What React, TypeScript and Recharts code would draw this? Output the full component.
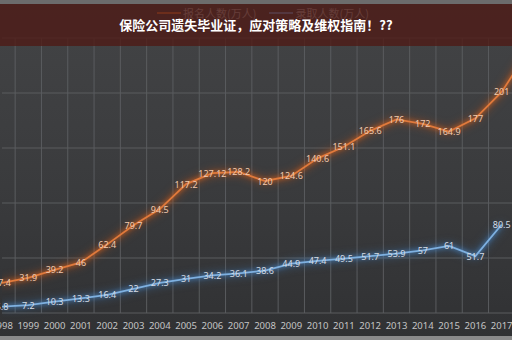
import { LineChart, Line, XAxis, YAxis, CartesianGrid, LabelList } from 'recharts'

// 年份 (2018 只露出一小段, 在右边缘之外)
const years = [1998, 1999, 2000, 2001, 2002, 2003, 2004, 2005, 2006, 2007, 2008, 2009, 2010, 2011, 2012, 2013, 2014, 2015, 2016, 2017, 2018]
const applicants = [27.4, 31.9, 39.2, 46, 62.4, 79.7, 94.5, 117.2, 127.12, 128.2, 120, 124.6, 140.6, 151.1, 165.6, 176, 172, 164.9, 177, 201, 238]
const admitted = [5.8, 7.2, 10.3, 13.3, 16.4, 22, 27.3, 31, 34.2, 36.1, 38.6, 44.9, 47.4, 49.5, 51.7, 53.9, 57, 61, 51.7, 80.5, null]
const yTicks = [0, 50, 100, 150, 200, 250]
const xDomain: [number, number] = [1998, 2018]
// 竖网格线在两个年份之间
const gridTicks = years.map(y => y - 0.5).concat([2018.5])

const TITLE = '保险公司遗失毕业证，应对策略及维权指南！??'
const LEGEND = [
  { label: '报名人数(万人)', color: '#d9773a' },
  { label: '录取人数(万人)', color: '#6a9fd6' },
]

const data = years.map((y, i) => ({ year: y, apply: applicants[i], admit: admitted[i] }))

const font = '"Noto Sans", "DejaVu Sans", sans-serif'

function valueLabel(color: string) {
  return (props: any) => {
    const { x, y, value } = props
    if (value == null) return null
    return (
      <text x={x} y={y} textAnchor="middle" dominantBaseline="central"
        fill={color} fontSize={9} fontFamily={font}>
        {value}
      </text>
    )
  }
}

// 按 x 轴的域把网格刻度换成像素
function gridX({ offset }: any) {
  const span = xDomain[1] - xDomain[0]
  return gridTicks.map(t => offset.left + ((t - xDomain[0]) / span) * offset.width)
}

export default function App() {
  return (
    <div style={{ position: 'relative', width: 512, height: 340, overflow: 'hidden',
      background: 'linear-gradient(#434446, #3a3b3d 55%, #303133)' }}>
      <style>{`
        body { margin: 0; }
        .apply-line .recharts-line-curve { filter: drop-shadow(0 0 2px #e0661e) drop-shadow(0 0 4px #b4501a); }
        .admit-line .recharts-line-curve { filter: drop-shadow(0 0 2px #4f8fd0) drop-shadow(0 0 4px #3a6fa8); }
      `}</style>
      <div style={{ position: 'absolute', left: 0, top: 0, width: 512, height: 4, background: '#6c6c6c' }} />
      <div style={{ position: 'absolute', left: 0, top: 336, width: 512, height: 4, background: '#8a8a8a' }} />

      <div style={{ position: 'absolute', top: 0, left: 0 }}>
        <LineChart width={540} height={340} data={data}
          margin={{ top: 38, right: 12, left: 2, bottom: 0 }}>
          <CartesianGrid stroke="#5a5c5f" strokeWidth={1} verticalCoordinatesGenerator={gridX} />
          <XAxis dataKey="year" type="number" domain={xDomain} ticks={years}
            allowDataOverflow axisLine={false} tickLine={false} tickSize={0} tickMargin={9} height={27}
            tick={{ fill: '#c4c4c4', fontSize: 9.5, fontFamily: font }} interval={0} />
          <YAxis domain={[0, 250]} ticks={yTicks} hide />
          <Line className="apply-line" dataKey="apply" stroke="#e07a3c" strokeWidth={1.8}
            dot={false} isAnimationActive={false}>
            <LabelList dataKey="apply" content={valueLabel('#f1c9ae')} />
          </Line>
          <Line className="admit-line" dataKey="admit" stroke="#7eb0e0" strokeWidth={1.8}
            dot={false} isAnimationActive={false}>
            <LabelList dataKey="admit" content={valueLabel('#d4dce6')} />
          </Line>
        </LineChart>
      </div>

      {/* 图例 (被标题栏盖住) */}
      <div style={{ position: 'absolute', top: 5, left: 157, display: 'flex', gap: 13,
        fontFamily: '"Noto Sans CJK SC", sans-serif', fontSize: 11, color: '#b9b9b9' }}>
        {LEGEND.map(l => (
          <div key={l.label} style={{ display: 'flex', alignItems: 'center' }}>
            <span style={{ display: 'inline-block', width: 24, height: 1.5, background: l.color, marginRight: 2 }} />
            {l.label}
          </div>
        ))}
      </div>

      <div style={{ position: 'absolute', left: 0, top: 4, width: 512, height: 42,
        background: 'rgba(78, 26, 20, 0.78)', display: 'flex', alignItems: 'center', justifyContent: 'center',
        paddingBottom: 2, boxSizing: 'border-box' }}>
        <span style={{ color: '#ffffff', fontWeight: 700, fontSize: 13,
          fontFamily: '"Noto Sans CJK SC", sans-serif' }}>{TITLE}</span>
      </div>
    </div>
  )
}
